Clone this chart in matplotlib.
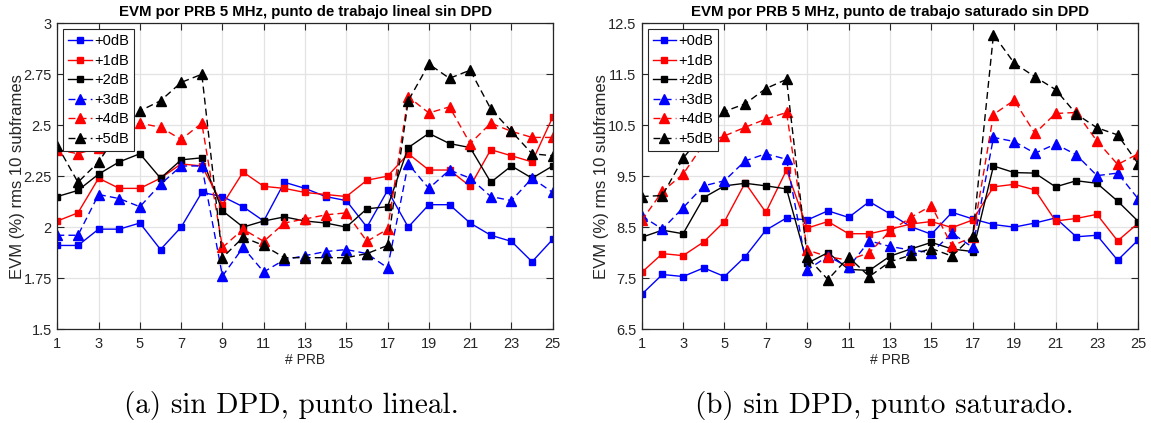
import matplotlib
matplotlib.use('Agg')
import matplotlib.pyplot as plt
import numpy as np

# ============ DATOS ============
prb = np.arange(1, 26)
labels = ['+0dB', '+1dB', '+2dB', '+3dB', '+4dB', '+5dB']

# (a) punto de trabajo lineal
lin_0dB = [1.91, 1.91, 1.99, 1.99, 2.02, 1.89, 2.00, 2.17, 2.15, 2.10, 2.03, 2.22, 2.19,
           2.15, 2.13, 2.00, 2.18, 2.00, 2.11, 2.11, 2.02, 1.96, 1.93, 1.83, 1.94]
lin_1dB = [2.03, 2.07, 2.24, 2.19, 2.19, 2.24, 2.31, 2.30, 2.11, 2.27, 2.20, 2.19, 2.17,
           2.16, 2.15, 2.23, 2.25, 2.36, 2.28, 2.28, 2.20, 2.38, 2.35, 2.32, 2.54]
lin_2dB = [2.15, 2.18, 2.26, 2.32, 2.36, 2.24, 2.33, 2.34, 2.08, 2.00, 2.03, 2.05, 2.03,
           2.02, 2.00, 2.09, 2.10, 2.39, 2.46, 2.41, 2.39, 2.22, 2.30, 2.24, 2.30]
lin_3dB = [1.96, 1.96, 2.16, 2.14, 2.10, 2.21, 2.30, 2.30, 1.76, 1.90, 1.78, 1.84, 1.86,
           1.88, 1.89, 1.87, 1.80, 2.31, 2.19, 2.28, 2.24, 2.15, 2.13, 2.24, 2.17]
lin_4dB = [2.38, 2.36, 2.39, 2.48, 2.51, 2.49, 2.43, 2.51, 1.90, 1.99, 1.93, 2.02, 2.04,
           2.06, 2.07, 1.93, 1.99, 2.64, 2.56, 2.59, 2.41, 2.51, 2.47, 2.44, 2.44]
lin_5dB = [2.40, 2.22, 2.32, 2.47, 2.57, 2.62, 2.71, 2.75, 1.85, 1.95, 1.91, 1.85, 1.85,
           1.85, 1.85, 1.87, 1.91, 2.62, 2.80, 2.73, 2.77, 2.58, 2.47, 2.36, 2.35]

# (b) punto de trabajo saturado
sat_0dB = [7.18, 7.57, 7.53, 7.70, 7.53, 7.92, 8.44, 8.68, 8.64, 8.82, 8.69, 9.00, 8.76,
           8.51, 8.36, 8.79, 8.66, 8.55, 8.50, 8.58, 8.68, 8.31, 8.34, 7.85, 8.25]
sat_1dB = [7.61, 7.98, 7.94, 8.21, 8.61, 9.37, 8.79, 9.62, 8.48, 8.61, 8.37, 8.37, 8.46,
           8.56, 8.61, 8.49, 8.64, 9.29, 9.34, 9.23, 8.62, 8.67, 8.75, 8.23, 8.58]
sat_2dB = [8.30, 8.44, 8.37, 9.08, 9.31, 9.36, 9.31, 9.25, 7.79, 8.00, 7.67, 7.65, 7.93,
           8.07, 8.20, 8.07, 8.02, 9.70, 9.57, 9.56, 9.29, 9.41, 9.36, 9.01, 8.61]
sat_3dB = [8.72, 8.46, 8.88, 9.31, 9.41, 9.80, 9.94, 9.83, 7.66, 7.93, 7.71, 8.23, 8.12,
           8.05, 8.00, 8.38, 8.10, 10.26, 10.18, 9.95, 10.13, 9.92, 9.51, 9.56, 9.05]
sat_4dB = [8.63, 9.20, 9.54, 10.13, 10.29, 10.46, 10.62, 10.75, 8.05, 7.92, 7.85, 8.00, 8.42,
           8.69, 8.92, 8.13, 8.31, 10.71, 10.99, 10.34, 10.73, 10.75, 10.19, 9.73, 9.94]
sat_5dB = [9.10, 9.12, 9.85, 10.35, 10.77, 10.92, 11.22, 11.40, 7.91, 7.47, 7.91, 7.53, 7.82,
           7.95, 8.08, 7.93, 8.33, 12.28, 11.72, 11.45, 11.20, 10.72, 10.45, 10.31, 9.74]

lin_series = [lin_0dB, lin_1dB, lin_2dB, lin_3dB, lin_4dB, lin_5dB]
sat_series = [sat_0dB, sat_1dB, sat_2dB, sat_3dB, sat_4dB, sat_5dB]

# estilo tipo MATLAB
colors = ['#0000ff', '#ff0000', '#000000', '#0000ff', '#ff0000', '#000000']
styles = ['-', '-', '-', (0, (5, 3)), (0, (5, 3)), (0, (5, 3))]
markers = ['s', 's', 's', '^', '^', '^']
msizes = [5, 5, 5, 6.5, 6.5, 6.5]

plt.rcParams['font.family'] = ['Liberation Sans', 'DejaVu Sans']
AX_COL = '#262626'

fig = plt.figure(figsize=(11.51, 4.23), dpi=100)
ax1 = fig.add_axes([0.0498, 0.2222, 0.4304, 0.7227])
ax2 = fig.add_axes([0.5575, 0.2222, 0.4315, 0.7227])


def draw(ax, series, yticks, title):
    for s, lab, c, ls, m, ms in zip(series, labels, colors, styles, markers, msizes):
        ax.plot(prb, s, color=c, linestyle=ls, marker=m, markersize=ms,
                linewidth=1.0, label=lab)
    ax.set_xlim(1, 25)
    ax.set_ylim(yticks[0], yticks[-1])
    ax.set_xticks(np.arange(1, 26, 2))
    ax.set_yticks(yticks)
    ax.set_yticklabels([('%g' % v) for v in yticks])
    ax.grid(True, color='#e3e3e3', linewidth=0.9)
    ax.set_axisbelow(True)
    ax.tick_params(direction='in', length=5, width=0.8, top=True, right=True,
                   labelsize=10.5, colors=AX_COL)
    ax.tick_params(axis='y', pad=4)
    ax.tick_params(axis='x', pad=6)
    for sp in ax.spines.values():
        sp.set_color(AX_COL)
        sp.set_linewidth(0.9)
    ax.set_title(title, fontsize=10.8, fontweight='bold', pad=5)
    ax.set_xlabel('# PRB', fontsize=10, color=AX_COL)
    ax.xaxis.set_label_coords(0.5, -0.08)
    ax.set_ylabel('EVM (%) rms 10 subframes', fontsize=12, color=AX_COL)
    ax.yaxis.set_label_coords(-0.066, 0.5)
    leg = ax.legend(loc='upper left', fontsize=10.5, frameon=True, fancybox=False,
                    edgecolor=AX_COL, framealpha=1, borderpad=0.35, labelspacing=0.38,
                    handlelength=1.6, handletextpad=0.15, borderaxespad=0.4)
    leg.get_frame().set_linewidth(0.8)


draw(ax1, lin_series, [1.5, 1.75, 2.0, 2.25, 2.5, 2.75, 3.0],
     'EVM por PRB 5 MHz, punto de trabajo lineal sin DPD')
draw(ax2, sat_series, [6.5, 7.5, 8.5, 9.5, 10.5, 11.5, 12.5],
     'EVM por PRB 5 MHz, punto de trabajo saturado sin DPD')

fig.text(0.253, 0.042, '(a) sin DPD, punto lineal.', fontsize=21, family='cmr10',
         ha='center', va='center')
fig.text(0.768, 0.042, '(b) sin DPD, punto saturado.', fontsize=21, family='cmr10',
         ha='center', va='center')

fig.savefig('out.png', dpi=100)
